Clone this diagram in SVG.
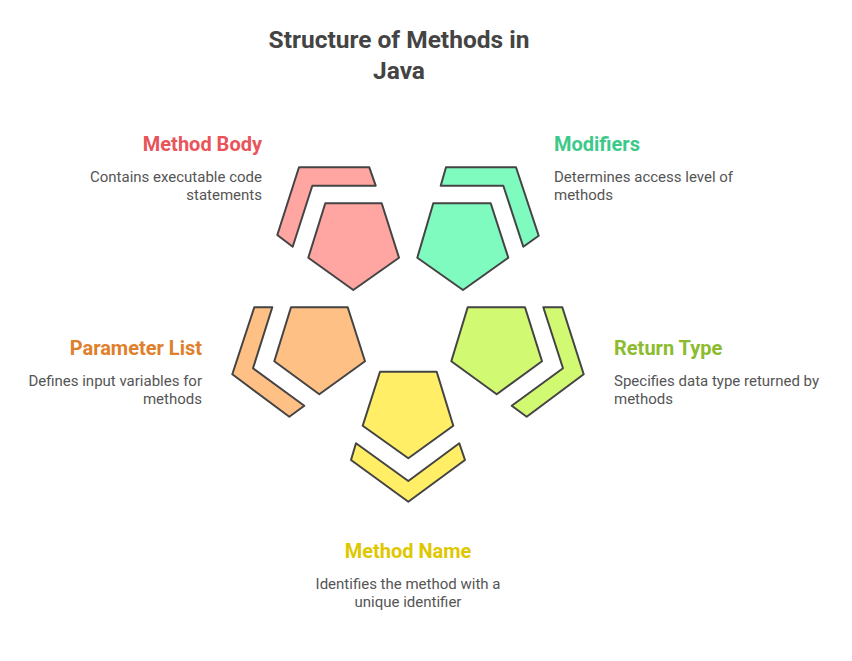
<svg xmlns="http://www.w3.org/2000/svg" width="852" height="661" viewBox="0 0 852 661">
<style>
.s{stroke:#444;stroke-width:2;stroke-linejoin:round}
.t{font-family:Roboto,"Liberation Sans",sans-serif}
.h{font-size:20px;font-weight:bold}
.d{font-size:15px;fill:#555}
</style>
<rect width="852" height="661" fill="#fff"/>
<text class="t" x="399" y="48" text-anchor="middle" font-size="24.5" font-weight="bold" fill="#444">Structure of Methods in</text>
<text class="t" x="399" y="79" text-anchor="middle" font-size="24.5" font-weight="bold" fill="#444">Java</text>
<g id="method-body">
<polygon class="s" fill="#ffa6a2" points="325.3,203.3 381.7,203.3 399,257.7 353.3,290 308.3,257.7"/>
<polygon class="s" fill="#ffa6a2" points="299,167.3 369.3,167.3 375.7,185.7 312.3,185.7 292.7,246.7 277.3,235"/>
<text class="t h" x="262" y="151" text-anchor="end" fill="#e8545a">Method Body</text>
<text class="t d" x="262" y="182" text-anchor="end">Contains executable code</text>
<text class="t d" x="262" y="200" text-anchor="end">statements</text>
</g>
<g id="modifiers">
<polygon class="s" fill="#80fbc0" points="433.3,203.3 490.7,203.3 508.3,257.7 463,290 417.3,257.7"/>
<polygon class="s" fill="#80fbc0" points="446,167.3 516,167.3 538.7,235.7 523.3,246.7 503.3,185.7 440.7,185.7"/>
<text class="t h" x="554" y="151" fill="#3cc98a">Modifiers</text>
<text class="t d" x="554" y="182">Determines access level of</text>
<text class="t d" x="554" y="200">methods</text>
</g>
<g id="parameter-list">
<polygon class="s" fill="#ffc085" points="291,307.3 347.7,307.3 365,361.3 319.3,394.3 274.3,361.3"/>
<polygon class="s" fill="#ffc085" points="254.3,307.3 272.3,307.3 253,368.3 304.3,405.7 289.3,416.7 232.3,374.3"/>
<text class="t h" x="202" y="355" text-anchor="end" fill="#e07f2c">Parameter List</text>
<text class="t d" x="202" y="386" text-anchor="end">Defines input variables for</text>
<text class="t d" x="202" y="404" text-anchor="end">methods</text>
</g>
<g id="return-type">
<polygon class="s" fill="#d1f972" points="467.7,307.3 525,307.3 542,361.3 496.7,394.3 451.3,361.3"/>
<polygon class="s" fill="#d1f972" points="543.3,307.3 562.3,307.3 583.7,374.3 526.7,416.7 511.7,405.7 563,368.3"/>
<text class="t h" x="614" y="355" fill="#8cbb2e">Return Type</text>
<text class="t d" x="614" y="386">Specifies data type returned by</text>
<text class="t d" x="614" y="404">methods</text>
</g>
<g id="method-name">
<polygon class="s" fill="#ffee66" points="380,371.7 436.7,371.7 453.3,425.7 408.3,458.3 362.7,425.7"/>
<polygon class="s" fill="#ffee66" points="356,443.3 408.3,481 459.3,443.3 465,460 408.3,501.7 351,460"/>
<text class="t h" x="408" y="558" text-anchor="middle" fill="#dfc700">Method Name</text>
<text class="t d" x="408" y="589" text-anchor="middle">Identifies the method with a</text>
<text class="t d" x="408" y="607" text-anchor="middle">unique identifier</text>
</g>
<g id="connectors"></g>
</svg>
